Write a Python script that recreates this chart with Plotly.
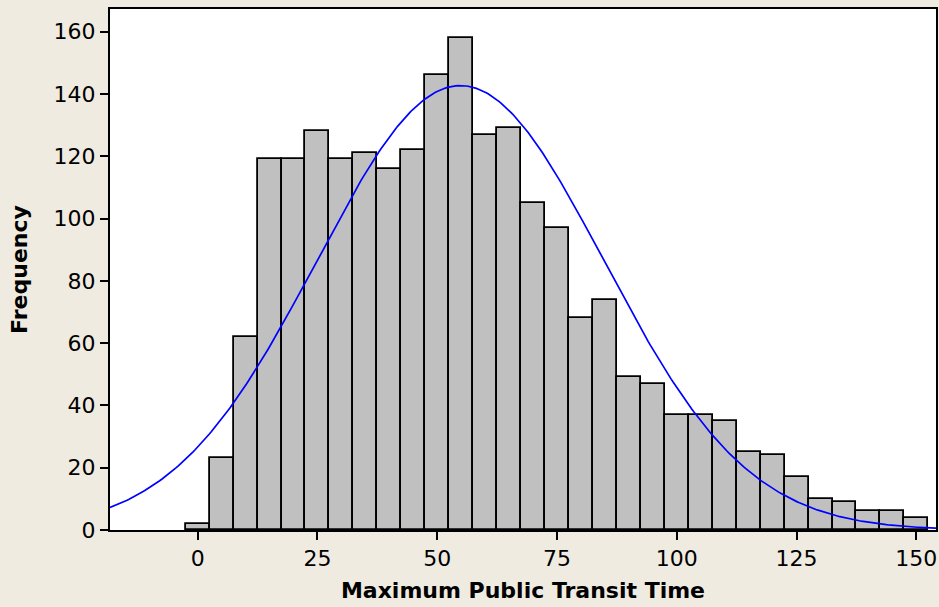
import numpy as np
import plotly.graph_objects as go

# Histogram data (bin centers, width 5)
bin_centers = [0, 5, 10, 15, 20, 25, 30, 35, 40, 45, 50, 55, 60, 65, 70, 75,
               80, 85, 90, 95, 100, 105, 110, 115, 120, 125, 130, 135, 140, 145, 150]
counts = [2, 23, 62, 119, 119, 128, 119, 121, 116, 122, 146, 158, 127, 129, 105, 97,
          68, 74, 49, 47, 37, 37, 35, 25, 24, 17, 10, 9, 6, 6, 4]
bin_width = 5
x_ticks = [0, 25, 50, 75, 100, 125, 150]
y_ticks = [0, 20, 40, 60, 80, 100, 120, 140, 160]

# Normal fit derived from the histogram
c = np.array(bin_centers, float)
n = np.array(counts, float)
N = n.sum()
mu = (c * n).sum() / N
sd = np.sqrt(((c - mu) ** 2 * n).sum() / N)
x_min, x_max = -18.3, 154.1
xs = np.linspace(x_min, x_max, 400)
ys = N * bin_width / (sd * np.sqrt(2 * np.pi)) * np.exp(-0.5 * ((xs - mu) / sd) ** 2)

font = "DejaVu Sans"
bg = "#EFEBE1"
fig = go.Figure()
fig.add_trace(go.Bar(
    x=bin_centers, y=counts, width=bin_width,
    marker=dict(color="#C0C0C0", line=dict(color="black", width=1.8)),
    hoverinfo="x+y", showlegend=False,
))
fig.add_trace(go.Scatter(
    x=xs, y=ys, mode="lines", line=dict(color="#0000FF", width=1.7),
    showlegend=False, hoverinfo="skip",
))

fig.update_layout(
    width=939, height=607,
    margin=dict(l=110, r=3, t=9, b=77),
    paper_bgcolor=bg, plot_bgcolor="white",
    bargap=0,
    font=dict(family=font, size=22, color="black"),
)
fig.update_xaxes(
    range=[x_min, x_max], tickvals=x_ticks, ticks="outside", ticklen=8, tickwidth=1.8,
    tickcolor="black", showline=True, linecolor="black", linewidth=2, mirror=True,
    showgrid=False, zeroline=False, automargin=False,
    title=dict(text="<b>Maximum Public Transit Time</b>", standoff=12,
               font=dict(family=font, size=22)),
)
fig.update_yaxes(
    range=[0, 167.3], tickvals=y_ticks, ticks="outside", ticklen=8, tickwidth=1.8,
    tickcolor="black", showline=True, linecolor="black", linewidth=2, mirror=True,
    showgrid=False, zeroline=False, automargin=False,
    title=dict(text="<b>Frequency</b>", standoff=20,
               font=dict(family=font, size=22)),
)
fig.write_html(
    "out.html",
    config={"displayModeBar": False},
    post_script="document.body.style.margin='0';document.body.style.background='%s';" % bg,
)
